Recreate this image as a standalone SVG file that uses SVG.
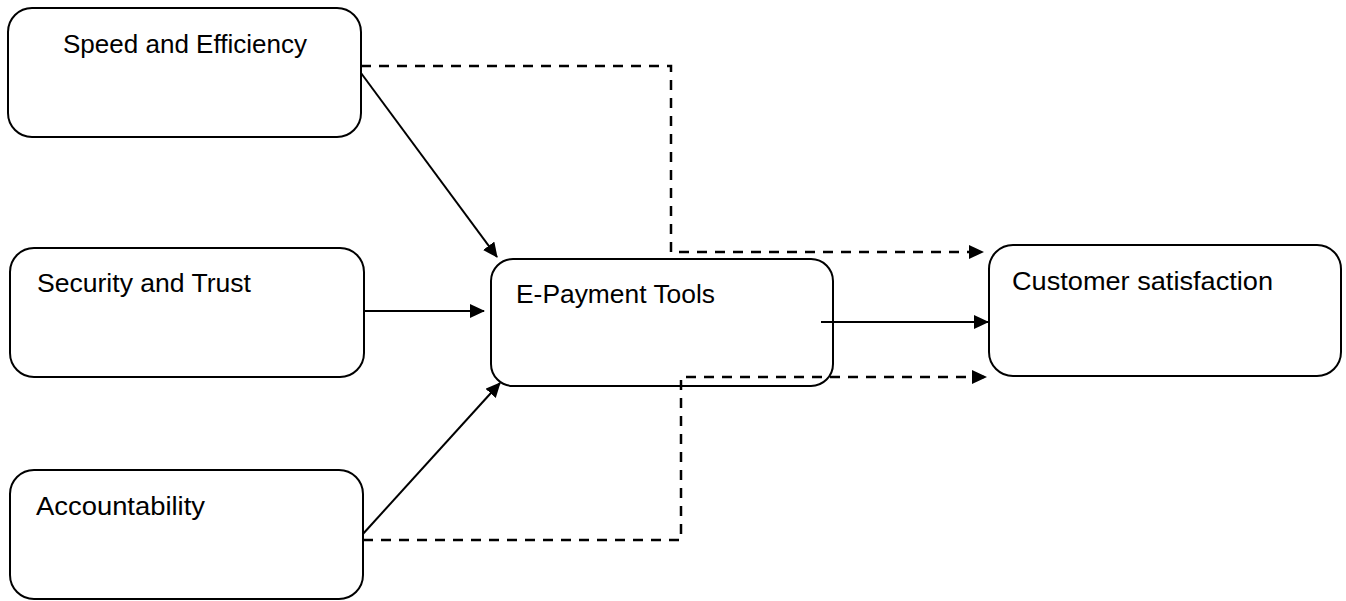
<svg xmlns="http://www.w3.org/2000/svg" width="1346" height="601" viewBox="0 0 1346 601">
<style>
.box{fill:#fff;stroke:#000;stroke-width:2}
.lbl{font-family:"Liberation Sans",Arial,sans-serif;font-size:25px;fill:#000}
.solid{fill:none;stroke:#000;stroke-width:2}
.dash{fill:none;stroke:#000;stroke-width:2.5;stroke-dasharray:10 8}
</style>
<defs>
<marker id="ah" markerUnits="userSpaceOnUse" markerWidth="16" markerHeight="14" refX="14" refY="7" orient="auto">
<path d="M0,0 L15,7 L0,14 z" fill="#000"/>
</marker>
</defs>
<rect width="1346" height="601" fill="#fff"/>
<g id="connectors">
<line class="solid" x1="361" y1="73" x2="497" y2="257" marker-end="url(#ah)"/>
<line class="solid" x1="364" y1="311" x2="484" y2="311" marker-end="url(#ah)"/>
<line class="solid" x1="362" y1="535" x2="500" y2="383" marker-end="url(#ah)"/>
<line class="solid" x1="821" y1="322" x2="988" y2="322" marker-end="url(#ah)"/>
<polyline class="dash" points="361,66 671,66 671,252 983,252" marker-end="url(#ah)"/>
<polyline class="dash" points="363,540 681,540 681,377 986,377" marker-end="url(#ah)"/>
</g>
<g id="speed"><rect class="box" x="8" y="8" width="353" height="129" rx="24"/><text class="lbl" x="63" y="53" textLength="244" lengthAdjust="spacingAndGlyphs">Speed and Efficiency</text></g>
<g id="security"><rect class="box" x="10" y="248" width="354" height="129" rx="24"/><text class="lbl" x="37" y="292" textLength="214" lengthAdjust="spacingAndGlyphs">Security and Trust</text></g>
<g id="accountability"><rect class="box" x="10" y="470" width="353" height="129" rx="24"/><text class="lbl" x="36" y="515" textLength="169" lengthAdjust="spacingAndGlyphs">Accountability</text></g>
<g id="epayment"><rect class="box" x="491" y="259" width="342" height="127" rx="22" style="fill:none"/><text class="lbl" x="516" y="303" textLength="199" lengthAdjust="spacingAndGlyphs">E-Payment Tools</text></g>
<g id="customer"><rect class="box" x="989" y="245" width="352" height="131" rx="24"/><text class="lbl" x="1012" y="290" textLength="261" lengthAdjust="spacingAndGlyphs">Customer satisfaction</text></g>
</svg>
